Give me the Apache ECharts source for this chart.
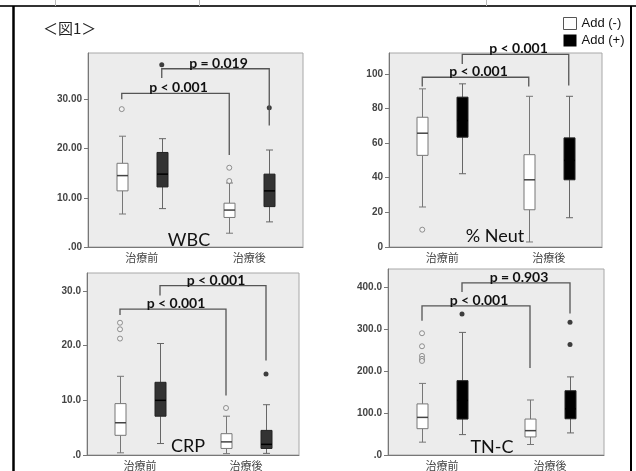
<!DOCTYPE html>
<html>
<head>
<meta charset="utf-8">
<script src="https://cdn.jsdelivr.net/npm/echarts@6/dist/echarts.min.js"></script>
<style>
  html, body { margin: 0; padding: 0; background: #fff; }
  #chart { width: 636px; height: 471px; }
</style>
</head>
<body>
<div id="chart"></div>
<script>
// カテゴリとグループ
const categories = ['治療前', '治療後']
const groupNames = ['Add (-)', 'Add (+)']

// 箱ひげ: [下ひげ, Q1, 中央値, Q3, 上ひげ] (治療前, 治療後)
const wbcMinus = [[6.7, 11.4, 14.5, 17.0, 22.5], [2.8, 6.0, 7.5, 8.9, 13.0]]
const wbcPlus = [[7.8, 12.2, 14.8, 19.2, 22.0], [5.1, 8.2, 11.4, 14.8, 19.7]]
const wbcOutMinus = [[0, 28.0], [1, 13.4], [1, 16.1]]
const wbcOutPlus = [[0, 37.0], [1, 28.3]]
const wbcTicks = [0, 10, 20, 30]
const wbcTickLabels = ['.00', '10.00', '20.00', '30.00']
const wbcMax = 39.4
// ブラケット: [グループ, 横線, 左端, 右端]
const wbcBrackets = [[0, 31.2, 30.0, 18.7], [1, 36.2, 34.3, 24.7]]
const wbcPValues = ['p < 0.001', 'p = 0.019']

const neutMinus = [[23.1, 52.9, 65.7, 74.9, 91.3], [2.9, 21.5, 38.8, 53.3, 87.0]]
const neutPlus = [[42.3, 63.4, 73.0, 86.5, 94.2], [16.9, 38.8, 50.0, 63.0, 87.0]]
const neutOutMinus = [[0, 10.0]]
const neutOutPlus = []
const neutTicks = [0, 20, 40, 60, 80, 100]
const neutTickLabels = ['0', '20', '40', '60', '80', '100']
const neutMax = 112
const neutBrackets = [[0, 98.0, 92.6, 92.6], [1, 111.2, 105.7, 93.2]]
const neutPValues = ['p < 0.001', 'p < 0.001']

const crpMinus = [[0.4, 3.6, 5.9, 9.4, 14.4], [0.25, 1.2, 2.4, 3.9, 7.1]]
const crpPlus = [[2.1, 7.1, 10.0, 13.3, 20.4], [0.3, 1.2, 1.95, 4.5, 9.2]]
const crpOutMinus = [[0, 24.2], [0, 23.0], [0, 21.3], [1, 8.6]]
const crpOutPlus = [[1, 14.8]]
const crpTicks = [0, 10, 20, 30]
const crpTickLabels = ['.0', '10.0', '20.0', '30.0']
const crpMax = 33.3
const crpBrackets = [[0, 26.7, 25.6, 10.9], [1, 31.0, 29.2, 17.3]]
const crpPValues = ['p < 0.001', 'p < 0.001']

const tncMinus = [[30.6, 62.7, 89.6, 121.7, 170.5], [25, 43, 58, 85.6, 131]]
const tncPlus = [[48.6, 85.6, 130, 177, 292], [52.6, 86.3, 110, 153, 186]]
const tncOutMinus = [[0, 290], [0, 259], [0, 236], [0, 229], [0, 224]]
const tncOutPlus = [[0, 335.6], [1, 316], [1, 263]]
const tncTicks = [0, 100, 200, 300, 400]
const tncTickLabels = ['.0', '100.0', '200.0', '300.0', '400.0']
const tncMax = 443
const tncBrackets = [[0, 355, 320, 207.5], [1, 410, 388, 337]]
const tncPValues = ['p < 0.001', 'p = 0.903']

// パネル設定
const panels = [
  { name: 'WBC', minus: wbcMinus, plus: wbcPlus, outMinus: wbcOutMinus, outPlus: wbcOutPlus,
    ticks: wbcTicks, tickLabels: wbcTickLabels, max: wbcMax, brackets: wbcBrackets, pValues: wbcPValues,
    grid: { left: 88, top: 53, width: 215, height: 194 }, plusColor: '#333', labelPos: [189, 240] },
  { name: '% Neut', minus: neutMinus, plus: neutPlus, outMinus: neutOutMinus, outPlus: neutOutPlus,
    ticks: neutTicks, tickLabels: neutTickLabels, max: neutMax, brackets: neutBrackets, pValues: neutPValues,
    grid: { left: 389, top: 53, width: 213, height: 194 }, plusColor: '#000', labelPos: [495, 236] },
  { name: 'CRP', minus: crpMinus, plus: crpPlus, outMinus: crpOutMinus, outPlus: crpOutPlus,
    ticks: crpTicks, tickLabels: crpTickLabels, max: crpMax, brackets: crpBrackets, pValues: crpPValues,
    grid: { left: 87, top: 273, width: 212, height: 183 }, plusColor: '#333', labelPos: [188, 446] },
  { name: 'TN-C', minus: tncMinus, plus: tncPlus, outMinus: tncOutMinus, outPlus: tncOutPlus,
    ticks: tncTicks, tickLabels: tncTickLabels, max: tncMax, brackets: tncBrackets, pValues: tncPValues,
    grid: { left: 388, top: 269, width: 216, height: 188 }, plusColor: '#000', labelPos: [492, 447] }
]

const BOX_OFFSET = [-20, 20]
const BOX_W = 11
const CAP_W = 7

// 箱ひげを描く
const boxRenderer = (offset, fill, stroke, whisker, median) => (params, api) => {
  const cat = api.value(0)
  const yLow = api.coord([cat, api.value(1)])[1]
  const yQ1 = api.coord([cat, api.value(2)])[1]
  const yMed = api.coord([cat, api.value(3)])[1]
  const yQ3 = api.coord([cat, api.value(4)])[1]
  const yHigh = api.coord([cat, api.value(5)])[1]
  const x = Math.round(api.coord([cat, 0])[0] + offset) + 0.5
  const hw = BOX_W / 2
  const cw = CAP_W / 2
  const ls = { stroke: whisker, lineWidth: 1 }
  return {
    type: 'group',
    children: [
      { type: 'line', shape: { x1: x, y1: yLow, x2: x, y2: yQ1 }, style: ls },
      { type: 'line', shape: { x1: x, y1: yQ3, x2: x, y2: yHigh }, style: ls },
      { type: 'line', shape: { x1: x - cw, y1: yLow, x2: x + cw, y2: yLow }, style: ls },
      { type: 'line', shape: { x1: x - cw, y1: yHigh, x2: x + cw, y2: yHigh }, style: ls },
      { type: 'rect', shape: { x: x - hw, y: yQ3, width: BOX_W, height: yQ1 - yQ3 },
        style: { fill: fill, stroke: stroke, lineWidth: 1 } },
      { type: 'line', shape: { x1: x - hw, y1: yMed, x2: x + hw, y2: yMed },
        style: { stroke: median, lineWidth: 1.5 } }
    ]
  }
}

// 有意差ブラケット
const bracketRenderer = (pValues) => (params, api) => {
  const off = BOX_OFFSET[api.value(0)]
  const yTop = api.coord([0, api.value(1)])[1]
  const yL = api.coord([0, api.value(2)])[1]
  const yR = api.coord([1, api.value(3)])[1]
  const xL = api.coord([0, 0])[0] + off
  const xR = api.coord([1, 0])[0] + off
  return {
    type: 'group',
    children: [
      { type: 'polyline', shape: { points: [[xL, yL], [xL, yTop], [xR, yTop], [xR, yR]] },
        style: { fill: null, stroke: '#555', lineWidth: 1.3 } },
      { type: 'text', z2: 10,
        style: { text: pValues[params.dataIndex], x: (xL + xR) / 2 + 3, y: yTop - 5.5,
          align: 'center', verticalAlign: 'middle', font: 'bold 14px Lato', fill: '#111' } }
    ]
  }
}

const grids = []
const xAxes = []
const yAxes = []
const series = []
const graphics = []

panels.forEach((p, i) => {
  grids.push({ ...p.grid, show: true, backgroundColor: '#ececec', borderColor: '#a8a8a8', borderWidth: 1 })
  xAxes.push({
    type: 'category', gridIndex: i, data: categories,
    axisLine: { lineStyle: { color: '#777' } },
    axisTick: { alignWithLabel: true, length: 4, lineStyle: { color: '#777' } },
    axisLabel: { color: '#444', fontSize: 11, margin: 5, fontFamily: 'Noto Sans CJK JP' }
  })
  yAxes.push({
    type: 'value', gridIndex: i, min: 0, max: p.max,
    splitLine: { show: false },
    axisLine: { show: true, lineStyle: { color: '#777' } },
    axisTick: { show: true, length: 4, customValues: p.ticks, lineStyle: { color: '#777' } },
    axisLabel: {
      customValues: p.ticks, margin: 6, color: '#444', fontSize: 10, fontWeight: 'bold',
      fontFamily: 'Liberation Sans',
      formatter: (v) => p.tickLabels[p.ticks.indexOf(v)]
    }
  })
  const ax = { xAxisIndex: i, yAxisIndex: i }
  series.push({
    name: groupNames[0], type: 'custom', ...ax, z: 3,
    renderItem: boxRenderer(BOX_OFFSET[0], '#fff', '#777', '#777', '#444'),
    encode: { x: 0, y: [1, 2, 3, 4, 5] },
    data: p.minus.map((d, k) => [k, ...d])
  })
  series.push({
    name: groupNames[1], type: 'custom', ...ax, z: 3,
    renderItem: boxRenderer(BOX_OFFSET[1], p.plusColor, '#222', '#666', '#000'),
    encode: { x: 0, y: [1, 2, 3, 4, 5] },
    data: p.plus.map((d, k) => [k, ...d])
  })
  series.push({
    type: 'scatter', ...ax, z: 4, symbol: 'circle', symbolSize: 5, symbolOffset: [BOX_OFFSET[0], 0],
    itemStyle: { color: '#f2f2f2', borderColor: '#777', borderWidth: 1 },
    emphasis: { disabled: true }, data: p.outMinus
  })
  series.push({
    type: 'scatter', ...ax, z: 4, symbol: 'circle', symbolSize: 5, symbolOffset: [BOX_OFFSET[1], 0],
    itemStyle: { color: '#111' }, emphasis: { disabled: true }, data: p.outPlus
  })
  series.push({
    type: 'custom', ...ax, z: 5,
    renderItem: bracketRenderer(p.pValues),
    encode: { x: 0, y: [1, 2, 3] },
    data: p.brackets
  })
  graphics.push({
    type: 'text', x: p.labelPos[0], y: p.labelPos[1], z: 10,
    style: { text: p.name, align: 'center', verticalAlign: 'middle', font: '18px Lato', fill: '#111' }
  })
})

// 外枠
graphics.push(
  { type: 'line', shape: { x1: 0, y1: 6, x2: 636, y2: 6 }, style: { stroke: '#333', lineWidth: 2 } },
  { type: 'line', shape: { x1: 13.5, y1: 6, x2: 13.5, y2: 471 }, style: { stroke: '#000', lineWidth: 2.5 } },
  { type: 'line', shape: { x1: 631, y1: 6, x2: 631, y2: 471 }, style: { stroke: '#000', lineWidth: 2 } },
  { type: 'line', shape: { x1: 55.5, y1: 0, x2: 55.5, y2: 6 }, style: { stroke: '#bbb', lineWidth: 1 } },
  { type: 'line', shape: { x1: 199.5, y1: 0, x2: 199.5, y2: 6 }, style: { stroke: '#bbb', lineWidth: 1 } },
  { type: 'line', shape: { x1: 486.5, y1: 0, x2: 486.5, y2: 6 }, style: { stroke: '#bbb', lineWidth: 1 } },
  { type: 'text', x: 43, y: 28,
    style: { text: '＜図1＞', verticalAlign: 'middle', font: '15px "Noto Sans CJK JP"', fill: '#222' } }
)

const chart = echarts.init(document.getElementById('chart'), null, { renderer: 'canvas' })
chart.setOption({
  animation: false,
  backgroundColor: '#fff',
  legend: {
    orient: 'vertical', left: 563, top: 17, padding: 0, itemWidth: 13, itemHeight: 12, itemGap: 4,
    selectedMode: false,
    textStyle: { fontSize: 13, fontFamily: 'Liberation Sans', color: '#111' },
    data: [
      { name: groupNames[0], icon: 'rect', itemStyle: { color: '#fff', borderColor: '#555', borderWidth: 1 } },
      { name: groupNames[1], icon: 'rect', itemStyle: { color: '#000', borderWidth: 0 } }
    ]
  },
  grid: grids,
  xAxis: xAxes,
  yAxis: yAxes,
  series: series,
  graphic: graphics
})
</script>
</body>
</html>
